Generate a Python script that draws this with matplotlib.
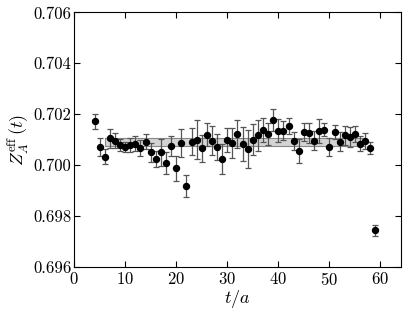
import matplotlib
matplotlib.use("Agg")
import matplotlib.pyplot as plt
import numpy as np

t = [4, 5, 6, 7, 8, 9, 10, 11, 12, 13, 14, 15, 16, 17, 18, 19, 20, 21, 22, 23,
     24, 25, 26, 27, 28, 29, 30, 31, 32, 33, 34, 35, 36, 37, 38, 39, 40, 41, 42,
     43, 44, 45, 46, 47, 48, 49, 50, 51, 52, 53, 54, 55, 56, 57, 58, 59]
z = [0.70171, 0.70071, 0.70032, 0.70104, 0.70095, 0.70079, 0.70072, 0.70079,
     0.70084, 0.70067, 0.70092, 0.70049, 0.70024, 0.70049, 0.70007, 0.70075,
     0.69987, 0.70086, 0.69917, 0.70091, 0.70099, 0.70066, 0.70118, 0.70096,
     0.70071, 0.70024, 0.70099, 0.70087, 0.70121, 0.70082, 0.70063, 0.70100,
     0.70116, 0.70138, 0.70122, 0.70178, 0.70134, 0.70134, 0.70153, 0.70095,
     0.70054, 0.70131, 0.70125, 0.70096, 0.70134, 0.70138, 0.70069, 0.70130,
     0.70091, 0.70116, 0.70111, 0.70122, 0.70084, 0.70094, 0.70066, 0.69743]
err = [0.00028, 0.00034, 0.00030, 0.00039, 0.00030, 0.00023, 0.00020, 0.00028,
       0.00030, 0.00030, 0.00028, 0.00038, 0.00032, 0.00052, 0.00044, 0.00040,
       0.00050, 0.00055, 0.00045, 0.00053, 0.00076, 0.00053, 0.00045, 0.00056,
       0.00052, 0.00058, 0.00047, 0.00058, 0.00056, 0.00066, 0.00075, 0.00060,
       0.00062, 0.00047, 0.00044, 0.00043, 0.00045, 0.00037, 0.00031, 0.00036,
       0.00047, 0.00035, 0.00039, 0.00037, 0.00047, 0.00025, 0.00035, 0.00028,
       0.00037, 0.00039, 0.00039, 0.00030, 0.00028, 0.00030, 0.00025, 0.00021]
fit_range = [6, 57]
fit_value = 0.70090
fit_error = 0.00014

plt.rcParams['font.family'] = ['cmr10', 'DejaVu Serif']
plt.rcParams['mathtext.fontset'] = 'cm'
plt.rcParams['axes.formatter.use_mathtext'] = True

fig = plt.figure(figsize=(4.07, 3.10), dpi=100)
ax = fig.add_axes([0.182, 0.140, 0.803, 0.820])

fx = np.array(fit_range, dtype=float)
ax.fill_between(fx, fit_value - fit_error, fit_value + fit_error,
                facecolor='#d4d4d4', edgecolor='none', zorder=1)
ax.plot(fx, [fit_value - fit_error] * 2, color='#888888', lw=0.8, zorder=1)
ax.plot(fx, [fit_value + fit_error] * 2, color='#888888', lw=0.8, zorder=1)
ax.plot([fx[0]] * 2, [fit_value - fit_error, fit_value + fit_error], color='#888888', lw=0.8, zorder=1)
ax.plot([fx[1]] * 2, [fit_value - fit_error, fit_value + fit_error], color='#888888', lw=0.8, zorder=1)

ax.errorbar(t, z, yerr=err, fmt='o', color='black', ms=4.3,
            ecolor='#555555', elinewidth=0.9, capsize=2, capthick=0.9, zorder=3)

ax.set_xlim(0, 64)
ax.set_ylim(0.696, 0.706)
ax.set_xticks([0, 10, 20, 30, 40, 50, 60])
ax.set_yticks([0.696, 0.698, 0.700, 0.702, 0.704, 0.706])
ax.yaxis.set_major_formatter(matplotlib.ticker.FormatStrFormatter('%.3f'))
ax.tick_params(direction='in', top=True, right=True, length=4, labelsize=12)
ax.tick_params(axis='x', pad=3)
ax.tick_params(axis='y', pad=2)
ax.set_xlabel(r'$t/a$', fontsize=13, labelpad=0)
ax.set_ylabel(r'$Z_A^{\rm eff}\,(t)$', fontsize=13, labelpad=1)

fig.savefig('out.png', dpi=100)
